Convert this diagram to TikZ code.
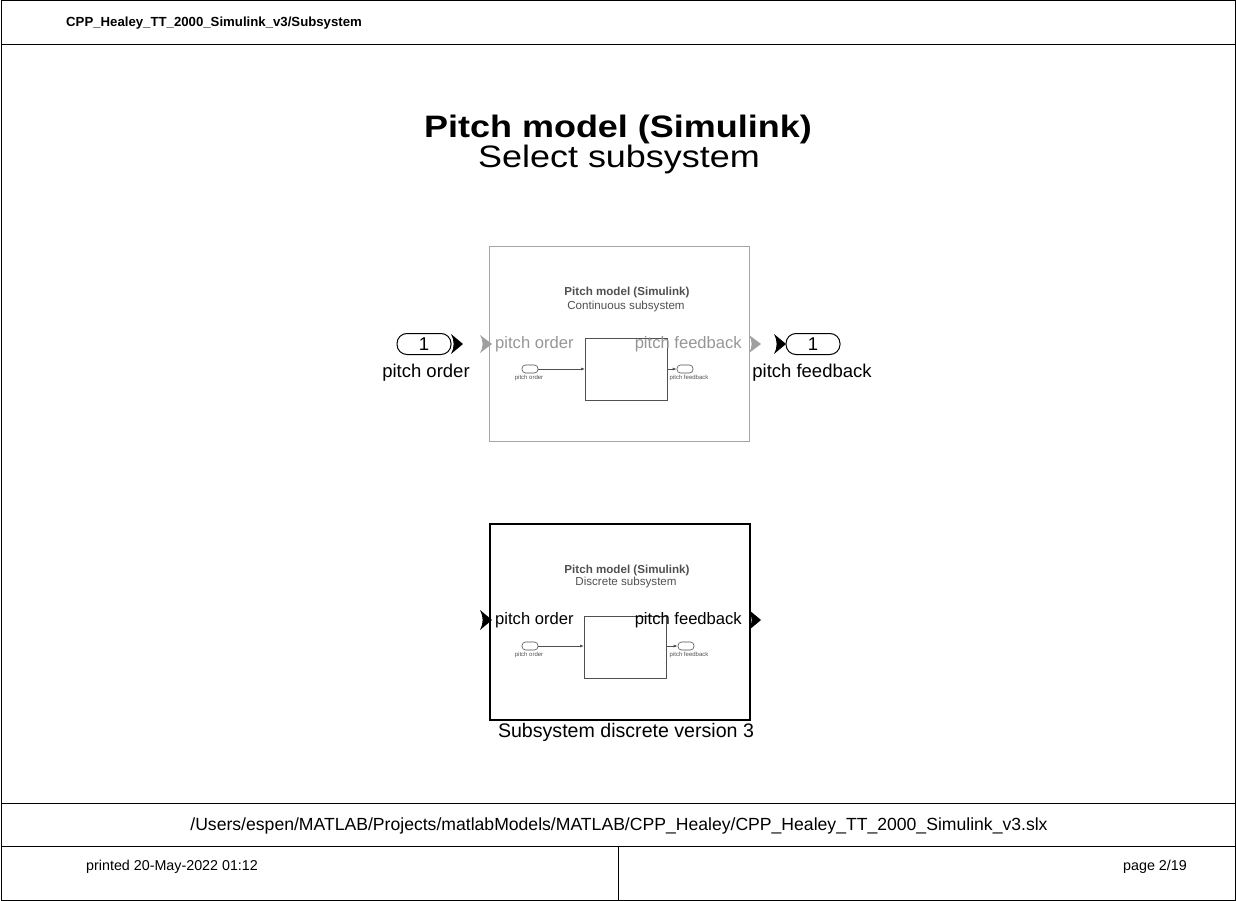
\documentclass[tikz,border=0pt]{standalone}
\usepackage{fontspec}
\setmainfont{Liberation Sans}
\usetikzlibrary{arrows.meta}
\definecolor{dimline}{RGB}{165,165,165}
\definecolor{dimtext}{RGB}{150,150,150}
\definecolor{intext}{RGB}{80,80,80}
\tikzset{
  fs/.style={font=\fontsize{#1}{#1}\selectfont},
  txt/.style={inner sep=0pt, fs=#1},
  oval/.style={draw, rounded corners=#1, inner sep=0pt, line width=1pt},
  minioval/.style={draw=intext, rounded corners=3.5pt, minimum width=16pt, minimum height=8pt, inner sep=0pt, line width=0.6pt},
  chevron/.pic={\fill (0,-10) -- (12,0) -- (0,10) .. controls (3.5,4) and (3.5,-4) .. (0,-10) -- cycle;},
  miniarrow/.style={draw=intext, line width=0.7pt, -{Latex[length=4pt,width=3pt]}},
}
\begin{document}
\begin{tikzpicture}[x=1pt,y=-1pt]
\useasboundingbox (0,0) rectangle (1236,901);
% frame
\draw[line width=1pt] (1,1) rectangle (1235,900);
\draw[line width=1pt] (1,45) -- (1235,45);
\draw[line width=1pt] (1,803) -- (1235,803);
\draw[line width=1pt] (1,846) -- (1235,846);
\draw[line width=1pt] (618,846) -- (618,900);
\node[txt=13.2, anchor=west, font=\fontsize{13.2}{13.2}\selectfont\bfseries] (hdr) at (66,23) {CPP\_Healey\_TT\_2000\_Simulink\_v3/Subsystem};
\node[txt=31, font=\fontsize{31}{31}\selectfont\bfseries, xscale=1.16, anchor=base] (title) at (618,138) {Pitch model (Simulink)};
\node[txt=31, xscale=1.16, anchor=base] (subtitle) at (619,168) {Select subsystem};
\node[txt=17.6] (path) at (619,826) {/Users/espen/MATLAB/Projects/matlabModels/MATLAB/CPP\_Healey/CPP\_Healey\_TT\_2000\_Simulink\_v3.slx};
\node[txt=14.3, anchor=west] (printed) at (86,867) {printed 20-May-2022 01:12};
\node[txt=14.3, anchor=east] (page) at (1187,867) {page 2/19};

% ---- upper (continuous) subsystem, dimmed
\node[draw=dimline, line width=1pt, minimum width=260pt, minimum height=195pt, inner sep=0pt, anchor=north west] (up) at (489,246) {};
\node[txt=11.6, text=intext, font=\fontsize{11.6}{11.6}\selectfont\bfseries] (uptitle) at (627,293) {Pitch model (Simulink)};
\node[txt=11.6, text=intext] (upsub) at (626,306) {Continuous subsystem};
\node[draw=intext, line width=0.8pt, minimum width=82pt, minimum height=62pt, inner sep=0pt, anchor=north west] (upin) at (585,338) {};
\node[minioval] (upo1) at (530,369) {};
\node[txt=6, text=intext] (upo1l) at (529,378) {pitch order};
\node[minioval] (upo2) at (685,369) {};
\node[txt=6, text=intext] (upo2l) at (689,378) {pitch feedback};
\draw[miniarrow] (upo1.east) -- (upin.west |- upo1.east);
\draw[miniarrow] (upin.east |- upo2.west) -- (upo2.west);
\node[txt=16.6, text=dimtext, anchor=west] (upl) at (495,344) {pitch order};
\node[txt=16.6, text=dimtext, anchor=east] (upr) at (742,344) {pitch feedback};
\pic[fill=gray!75, yscale=0.9] at (480,344) {chevron};
\pic[fill=gray!75, yscale=0.9] at (749,344) {chevron};

% ---- inport / outport
\node[oval=10pt, minimum width=54pt, minimum height=21pt] (in1) at (424,344) {\fontsize{18.5}{18.5}\selectfont 1};
\node[txt=18.5, anchor=base] (in1l) at (426,377) {pitch order};
\pic at (451,344) {chevron};
\pic at (774,344) {chevron};
\node[oval=10pt, minimum width=54pt, minimum height=21pt] (out1) at (813,344) {\fontsize{18.5}{18.5}\selectfont 1};
\node[txt=18.5, anchor=base] (out1l) at (812,377) {pitch feedback};

% ---- lower (discrete) subsystem
\node[draw, line width=2pt, minimum width=260pt, minimum height=196pt, inner sep=0pt, anchor=north west] (lo) at (489,523) {};
\node[txt=11.6, text=intext, font=\fontsize{11.6}{11.6}\selectfont\bfseries] (lotitle) at (627,570) {Pitch model (Simulink)};
\node[txt=11.6, text=intext] (losub) at (626,582) {Discrete subsystem};
\node[draw=intext, line width=0.8pt, minimum width=82pt, minimum height=62pt, inner sep=0pt, anchor=north west] (loin) at (584,616) {};
\node[minioval] (loo1) at (530,646) {};
\node[txt=6, text=intext] (loo1l) at (529,655) {pitch order};
\node[minioval] (loo2) at (686,646) {};
\node[txt=6, text=intext] (loo2l) at (689,655) {pitch feedback};
\draw[miniarrow] (loo1.east) -- (loin.west |- loo1.east);
\draw[miniarrow] (loin.east |- loo2.west) -- (loo2.west);
\node[txt=16.6, anchor=west] (lol) at (495,620) {pitch order};
\node[txt=16.6, anchor=east] (lor) at (742,620) {pitch feedback};
\pic at (480,620) {chevron};
\pic at (749,620) {chevron};
\node[txt=19.6] (lolabel) at (626,732) {Subsystem discrete version 3};
\end{tikzpicture}
\end{document}
